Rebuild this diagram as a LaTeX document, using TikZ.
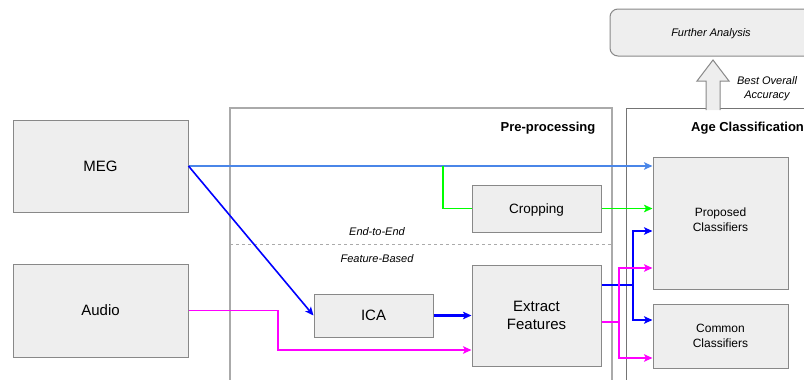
\documentclass[tikz,border=0pt]{standalone}
\usepackage{fontspec}
\setmainfont{Liberation Sans}
\usetikzlibrary{arrows.meta}
\definecolor{boxfill}{HTML}{EEEEEE}
\definecolor{boxline}{HTML}{888888}
\definecolor{paneline}{HTML}{AAAAAA}
\definecolor{megblue}{HTML}{4A86E8}
\definecolor{pureblue}{HTML}{0000FF}
\definecolor{puremag}{HTML}{FF00FF}
\definecolor{puregreen}{HTML}{00FF00}
\tikzset{
  block/.style={draw=boxline, fill=boxfill, line width=1pt, inner sep=0pt, align=center},
  tip/.style={-{Stealth[length=8.5pt,width=7.5pt,inset=2pt]}},
  flow/.style={line width=1.6pt},
  heavy/.style={line width=2.3pt},
  fs/.style={font=\fontsize{#1}{18}\selectfont}
}
\begin{document}
\begin{tikzpicture}[x=1pt,y=-1pt]
\useasboundingbox (0,0) rectangle (804,380);
\clip (0,0) rectangle (804,380);

% panels
\draw[paneline, line width=1.3pt] (230,395) -- (230,108) -- (612,108) -- (612,395);
\draw[boxline!85!black, line width=0.8pt] (626,395) -- (626,108) -- (830,108);
\node[font=\bfseries\fontsize{13}{16}\selectfont] (pretitle) at (548,128.5) {Pre-processing};
\node[anchor=west, inner sep=0pt, font=\bfseries\fontsize{13}{16}\selectfont] (agetitle) at (691,128.5) {Age Classification};
\draw[paneline, line width=1pt, dash pattern=on 3pt off 3pt] (230,244) -- (612,244);
\node[font=\itshape\fontsize{11}{13}\selectfont] (e2e) at (377,232) {End-to-End};
\node[font=\itshape\fontsize{11}{13}\selectfont] (fb) at (377,259) {Feature-Based};

% boxes
\node[block, minimum width=175pt, minimum height=92pt, fs=15] (MEG) at (100.5,166) {MEG};
\node[block, minimum width=175pt, minimum height=93pt, fs=15] (Audio) at (100.5,310.5) {Audio};
\node[block, minimum width=129pt, minimum height=47pt] (Crop) at (536.5,208.5) {};
\node[fs=13.5] (croptext) at (536.5,210) {Cropping};
\node[block, minimum width=119pt, minimum height=43pt, fs=15] (ICA) at (373.5,315.5) {ICA};
\node[block, minimum width=129pt, minimum height=101pt, font=\fontsize{15}{18}\selectfont] (Extract) at (536.5,315.5) {Extract\\Features};
\node[block, minimum width=135pt, minimum height=132pt] (Prop) at (720.5,223) {};
\node[font=\fontsize{12}{15}\selectfont, align=center] (proptext) at (720.5,219.5) {Proposed\\Classifiers};
\node[block, minimum width=135pt, minimum height=64pt, font=\fontsize{12}{15}\selectfont] (Common) at (720.5,336) {Common\\Classifiers};
\node[block, rounded corners=8pt, minimum width=230pt, minimum height=47pt] (Further) at (725,32.5) {};
\node[font=\itshape\fontsize{11}{13}\selectfont] (furthertext) at (711,33.5) {Further Analysis};

% block arrow towards further analysis
\draw[boxline, fill=boxfill, line width=1pt] (706,110) -- (706,81) -- (697,81) -- (713,60) -- (729,81) -- (720,81) -- (720,110);
\node[font=\itshape\fontsize{11}{14}\selectfont, align=center] (acc) at (767,89) {Best Overall\\Accuracy};

% junction points
\coordinate (g1) at (443,166);
\coordinate (a1) at (278,310.5);
\coordinate (a2) at (278,350);
\coordinate (b1) at (633,285);
\coordinate (b2) at (633,231);
\coordinate (b3) at (633,320);
\coordinate (m1) at (619,322);
\coordinate (m2) at (619,268);
\coordinate (m3) at (619,358);

% end-to-end path
\draw[flow, megblue, tip] (MEG.east) -- (MEG.east -| Prop.west);
\draw[flow, puregreen] (g1) |- (Crop.west);
\draw[flow, puregreen, tip] (Crop.east) -- (Crop.east -| Prop.west);

% feature-based path
\draw[flow, pureblue, tip] (MEG.east) -- (ICA.west);
\draw[heavy, pureblue, tip] (ICA.east) -- (ICA.east -| Extract.west);
\draw[flow, puremag, tip] (Audio.east) -- (a1) -- (a2) -- (a2 -| Extract.west);

% features into classifiers
\draw[heavy, pureblue] (b1 -| Extract.east) -- (b1);
\draw[flow, pureblue, tip] (b1) -- (b2) -- (b2 -| Prop.west);
\draw[flow, pureblue, tip] (b1) -- (b3) -- (b3 -| Common.west);
\draw[flow, puremag] (m1 -| Extract.east) -- (m1);
\draw[flow, puremag, tip] (m1) -- (m2) -- (m2 -| Prop.west);
\draw[flow, puremag, tip] (m1) -- (m3) -- (m3 -| Common.west);
\end{tikzpicture}
\end{document}
